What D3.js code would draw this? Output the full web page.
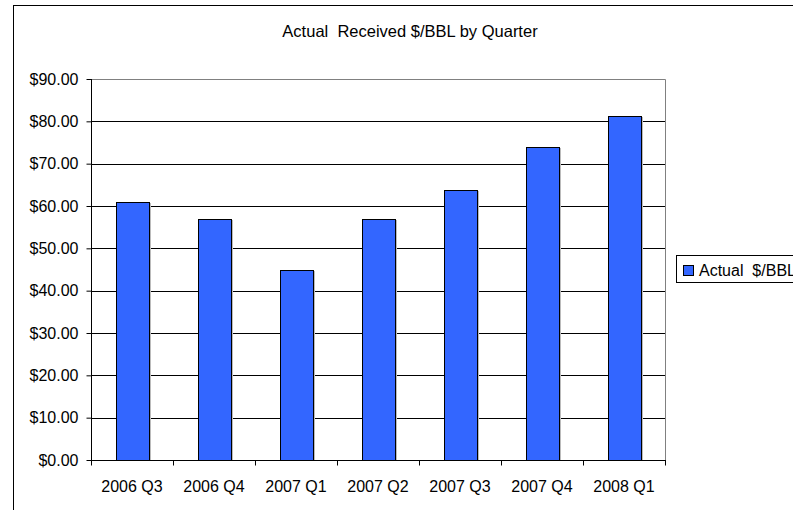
<!DOCTYPE html>
<html><head><meta charset="utf-8">
<script src="https://cdn.jsdelivr.net/npm/d3@7"></script>
<style>body{margin:0;background:#fff}svg{display:block}text{font-family:"Liberation Sans",Arial,sans-serif;fill:#000;white-space:pre}</style>
</head><body><svg id="c" width="793" height="510"></svg>
<script>
const categories = ["2006 Q3","2006 Q4","2007 Q1","2007 Q2","2007 Q3","2007 Q4","2008 Q1"];
const values = [60.9, 57.0, 45.0, 57.0, 63.7, 74.0, 81.2];
const yTicks = [0,10,20,30,40,50,60,70,80,90];
const seriesName = "Actual  $/BBL";
const title = "Actual  Received $/BBL by Quarter";

const FS = "16px";
const svg = d3.select("#c");
// outer chart border
svg.append("rect").attr("x",13.5).attr("y",5.5).attr("width",900).attr("height",600)
  .attr("fill","#fff").attr("stroke","#000").attr("stroke-width",1);

const L=91, R=665, T=79, B=460;
const x = d3.scaleBand().domain(categories).range([L,R]).paddingInner(0.6).paddingOuter(0.3);
const xb = d3.scaleBand().domain(categories).range([L,R]);
const y = d3.scaleLinear().domain([0,90]).range([B,T]);

svg.append("text").attr("x",410).attr("y",37).attr("text-anchor","middle")
  .style("font-size","16.5px").text(title);

// gridlines
svg.append("g").selectAll("line").data(yTicks.filter(d=>d>0 && d<90)).join("line")
  .attr("x1",L).attr("x2",R).attr("y1",d=>Math.round(y(d))+0.5).attr("y2",d=>Math.round(y(d))+0.5)
  .attr("stroke","#000").attr("stroke-width",1);
// plot border (gray) top and right
svg.append("path").attr("d",`M${L},${T+0.5}H${R+0.5}V${B}`).attr("fill","none").attr("stroke","#808080");

// bars shadow
svg.append("g").selectAll("rect").data(values).join("rect")
  .attr("x",(d,i)=>Math.round(x(categories[i]))+1.5).attr("y",d=>Math.round(y(d))+1.5)
  .attr("width",Math.round(x.bandwidth())).attr("height",d=>B-Math.round(y(d))-1)
  .attr("fill","none").attr("stroke","#bbb").attr("stroke-width",1);
svg.append("g").selectAll("rect").data(values).join("rect")
  .attr("x",(d,i)=>Math.round(x(categories[i]))+0.5).attr("y",d=>Math.round(y(d))+0.5)
  .attr("width",Math.round(x.bandwidth())).attr("height",d=>B-Math.round(y(d)))
  .attr("fill","#3366FF").attr("stroke","#000").attr("stroke-width",1);

// y axis
const ya = svg.append("g").attr("transform",`translate(${L+0.5},0)`)
  .call(d3.axisLeft(y).tickValues(yTicks).tickSize(5).tickPadding(8).tickFormat(d=>"$"+d3.format(".2f")(d)));
ya.select(".domain").attr("stroke","#000").attr("d",`M0,${T}V${B+0.5}`);
ya.selectAll("text").style("font-size",FS).style("font-family","'Liberation Sans',Arial,sans-serif").attr("fill","#000");
ya.selectAll(".tick line").attr("stroke","#000");

// x axis
const xa = svg.append("g").attr("transform",`translate(0,${B+0.5})`);
xa.append("line").attr("x1",L).attr("x2",R+1).attr("stroke","#000");
xa.selectAll("line.t").data(categories.concat(["__end"])).join("line").attr("class","t")
  .attr("x1",(d,i)=>Math.round(i<categories.length?xb(d):R)+0.5).attr("x2",(d,i)=>Math.round(i<categories.length?xb(d):R)+0.5)
  .attr("y1",0).attr("y2",5).attr("stroke","#000");
xa.selectAll("text").data(categories).join("text")
  .attr("x",d=>xb(d)+xb.bandwidth()/2).attr("y",31.5).attr("text-anchor","middle")
  .style("font-size",FS).text(d=>d);

// legend
const lg = svg.append("g");
lg.append("rect").attr("x",676.5).attr("y",255.5).attr("width",200).attr("height",27)
  .attr("fill","#fff").attr("stroke","#000");
lg.append("rect").attr("x",683.5).attr("y",265.5).attr("width",10).attr("height",10)
  .attr("fill","#3366FF").attr("stroke","#000");
lg.append("text").attr("x",699).attr("y",276).style("font-size",FS).text(seriesName);
</script></body></html>
